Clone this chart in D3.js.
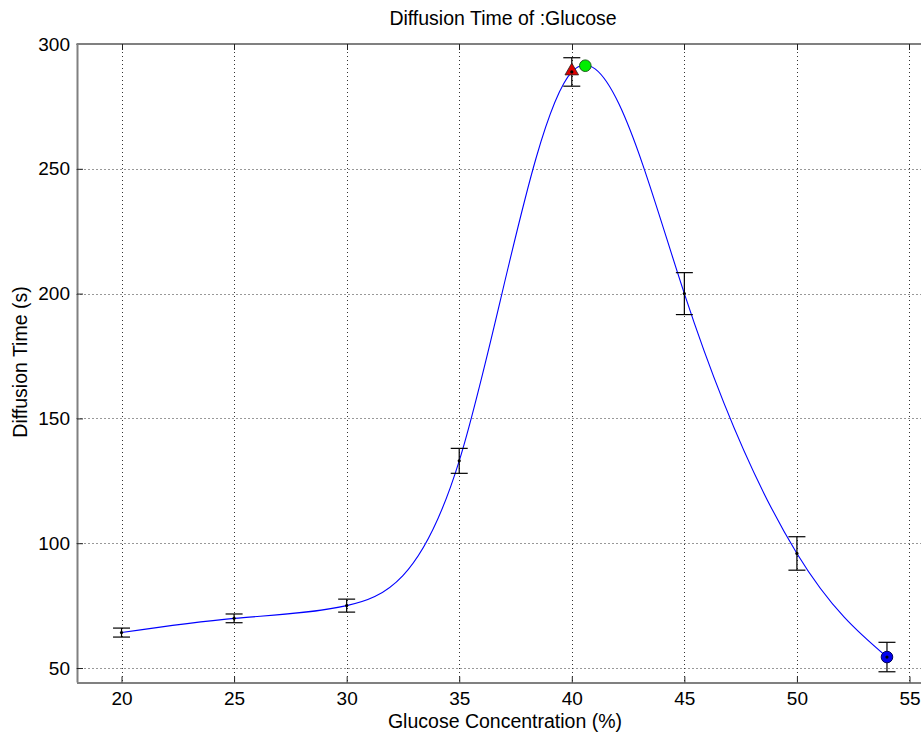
<!DOCTYPE html>
<html>
<head>
<meta charset="utf-8">
<script src="https://cdn.jsdelivr.net/npm/d3@7"></script>
<style>
  body { margin: 0; background: #fff; }
  svg { display: block; font-family: "Liberation Sans", Arial, sans-serif; }
</style>
</head>
<body>
<script>
// measured glucose concentrations and diffusion times
const concentration = [20, 25, 30, 35, 40, 45, 50, 54];
const diffTime = [64.2, 69.9, 75.0, 133.0, 288.8, 200.0, 95.9, 54.4];
const diffErr = [1.8, 1.75, 2.6, 5.0, 5.7, 8.4, 6.7, 5.9];

// highlighted points
const peakFit = [40.6, 291.3];      // maximum of the fitted curve
const peakMeasured = [40, 288.8];   // largest measured value
const lastPoint = [54, 54.4];

const xTicks = [20, 25, 30, 35, 40, 45, 50, 55];
const yTicks = [50, 100, 150, 200, 250, 300];

const width = 921, height = 734;
const plotLeft = 76.5, plotRight = 932, plotTop = 44, plotBottom = 682;

const svg = d3.select("body").append("svg")
    .attr("width", width)
    .attr("height", height);

const x = d3.scaleLinear().domain([18, 56]).range([plotLeft, plotRight]);
const y = d3.scaleLinear().domain([44.4, 300]).range([plotBottom, plotTop]);

// grid
svg.append("g").selectAll("line")
    .data(xTicks)
    .enter()
    .append("line")
    .attr("x1", d => Math.round(x(d)) + 0.5)
    .attr("x2", d => Math.round(x(d)) + 0.5)
    .attr("y1", plotTop)
    .attr("y2", plotBottom)
    .attr("stroke", "#333")
    .attr("stroke-dasharray", "1,3");

svg.append("g").selectAll("line")
    .data(yTicks)
    .enter()
    .append("line")
    .attr("y1", d => Math.round(y(d)) + 0.5)
    .attr("y2", d => Math.round(y(d)) + 0.5)
    .attr("x1", plotLeft)
    .attr("x2", plotRight)
    .attr("stroke", "#333")
    .attr("stroke-dasharray", "1,3");

// axes, matlab style: inward ticks
const xAxis = d3.axisBottom(x).tickValues(xTicks).tickSizeInner(-6).tickSizeOuter(0).tickPadding(9);
const yAxis = d3.axisLeft(y).tickValues(yTicks).tickSizeInner(-6).tickSizeOuter(0).tickPadding(7);

const gx = svg.append("g")
    .attr("transform", `translate(0,${plotBottom + 0.5})`)
    .call(xAxis);
const gy = svg.append("g")
    .attr("transform", `translate(${plotLeft + 0.5},0)`)
    .call(yAxis);

[gx, gy].forEach(g => {
    g.select(".domain").attr("stroke", "#808080").attr("stroke-width", 2);
    g.selectAll(".tick line").attr("stroke", "#222");
    g.selectAll(".tick text")
        .attr("font-size", 19)
        .attr("fill", "#000")
        .attr("font-family", "Liberation Sans, Arial, sans-serif");
});

// top frame with ticks
svg.append("line")
    .attr("x1", plotLeft).attr("x2", plotRight)
    .attr("y1", plotTop).attr("y2", plotTop)
    .attr("stroke", "#808080").attr("stroke-width", 2);
svg.append("g").selectAll("line")
    .data(xTicks)
    .enter()
    .append("line")
    .attr("x1", d => Math.round(x(d)) + 0.5)
    .attr("x2", d => Math.round(x(d)) + 0.5)
    .attr("y1", plotTop)
    .attr("y2", plotTop + 6)
    .attr("stroke", "#222");

// fitted curve
const points = concentration.map((c, i) => [c, diffTime[i]]);
svg.append("path")
    .datum(points)
    .attr("fill", "none")
    .attr("stroke", "#0000ff")
    .attr("stroke-width", 1.1)
    .attr("d", d3.line().x(d => x(d[0])).y(d => y(d[1])).curve(d3.curveNatural));

// error bars
const bars = svg.append("g").attr("stroke", "#000").attr("stroke-width", 1.2);
concentration.forEach((c, i) => {
    const cx = x(c);
    const hi = y(diffTime[i] + diffErr[i]);
    const lo = y(diffTime[i] - diffErr[i]);
    bars.append("line").attr("x1", cx).attr("x2", cx).attr("y1", hi).attr("y2", lo);
    bars.append("line").attr("x1", cx - 8.5).attr("x2", cx + 8.5).attr("y1", hi).attr("y2", hi);
    bars.append("line").attr("x1", cx - 8.5).attr("x2", cx + 8.5).attr("y1", lo).attr("y2", lo);
});

// highlighted markers
svg.append("path")
    .attr("transform", `translate(${x(peakMeasured[0])},${y(peakMeasured[1]) - 1})`)
    .attr("d", d3.symbol().type(d3.symbolTriangle).size(80))
    .attr("fill", "#dd0000")
    .attr("stroke", "#222")
    .attr("stroke-width", 0.8);

svg.append("circle")
    .attr("cx", x(peakFit[0]))
    .attr("cy", y(peakFit[1]))
    .attr("r", 5.8)
    .attr("fill", "#00ee00")
    .attr("stroke", "#1a5e1a")
    .attr("stroke-width", 1);

svg.append("circle")
    .attr("cx", x(lastPoint[0]))
    .attr("cy", y(lastPoint[1]))
    .attr("r", 5.8)
    .attr("fill", "#0000ee")
    .attr("stroke", "#00005a")
    .attr("stroke-width", 1);

// data dots
svg.append("g").selectAll("circle")
    .data(points)
    .enter()
    .append("circle")
    .attr("cx", d => x(d[0]))
    .attr("cy", d => y(d[1]))
    .attr("r", 1.6)
    .attr("fill", "#000");

// labels
svg.append("text")
    .attr("x", 503).attr("y", 25)
    .attr("text-anchor", "middle")
    .attr("font-size", 19.5)
    .text("Diffusion Time of :Glucose");

svg.append("text")
    .attr("x", 505).attr("y", 728)
    .attr("text-anchor", "middle")
    .attr("font-size", 19.5)
    .text("Glucose Concentration (%)");

svg.append("text")
    .attr("transform", "translate(27,362) rotate(-90)")
    .attr("text-anchor", "middle")
    .attr("font-size", 19.5)
    .text("Diffusion Time (s)");
</script>
</body>
</html>
